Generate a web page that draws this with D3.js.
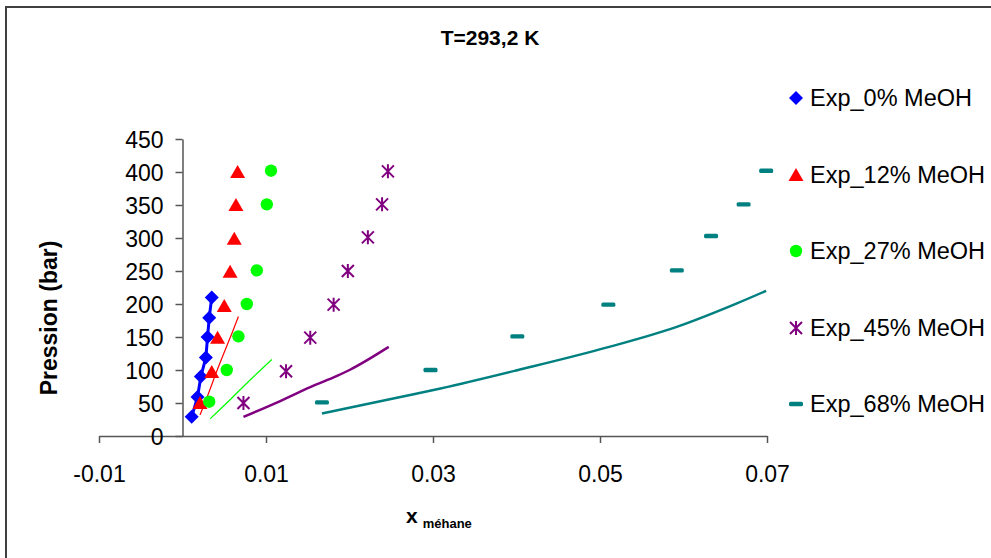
<!DOCTYPE html>
<html>
<head>
<meta charset="utf-8">
<script src="https://cdn.jsdelivr.net/npm/d3@7"></script>
<style>
  html, body { margin: 0; padding: 0; background: #fff; }
  svg { display: block; }
  text { font-family: Arial, "Liberation Sans", sans-serif; fill: #000; }
</style>
</head>
<body>
<svg id="chart" width="991" height="558"></svg>
<script>
// ---- data ----
const title = "T=293,2 K";
const xTicks = [-0.01, 0.01, 0.03, 0.05, 0.07];
const yTicks = [0, 50, 100, 150, 200, 250, 300, 350, 400, 450];
const legendLabels = ["Exp_0% MeOH", "Exp_12% MeOH", "Exp_27% MeOH", "Exp_45% MeOH", "Exp_68% MeOH"];

const exp0X  = [0.0011, 0.0018, 0.0022, 0.0028, 0.0030, 0.0032, 0.0035];
const exp0P  = [29, 59, 90, 119, 150, 179, 210];

const exp12X = [0.0021, 0.0035, 0.0042, 0.0050, 0.0057, 0.0062, 0.0064, 0.0066];
const exp12P = [50, 97, 149, 197, 249, 299, 350, 400];
const calc12X = [0.0021, 0.0031, 0.0041, 0.0051, 0.0059, 0.0067];
const calc12P = [32, 64, 98, 130, 155, 181];

const exp27X = [0.0032, 0.0053, 0.0067, 0.0077, 0.0089, 0.0101, 0.0106];
const exp27P = [52, 100, 151, 200, 251, 351, 402];
const calc27X = [0.0033, 0.0057, 0.0077, 0.0107];
const calc27P = [26, 55, 80, 116];

const exp45X = [0.0073, 0.0124, 0.0153, 0.0181, 0.0198, 0.0222, 0.0239, 0.0246];
const exp45P = [50, 98, 149, 199, 250, 301, 351, 401];
const calc45X = [0.0073, 0.0117, 0.0153, 0.0185, 0.0200, 0.0247];
const calc45P = [29, 53, 74, 91, 100, 135];

const exp68X = [0.0167, 0.0297, 0.0401, 0.0510, 0.0592, 0.0633, 0.0672, 0.0699];
const exp68P = [51, 100, 151, 199, 251, 303, 351, 402];
const calc68X = [0.0167, 0.0261, 0.0309, 0.0402, 0.0511, 0.0591, 0.0664, 0.0699];
const calc68P = [34, 59, 72, 100, 135, 165, 201, 220];

const colors = ["#0000FF", "#FF0000", "#00FF00", "#800080", "#008080"];

// ---- build ----
const zip = (xs, ys) => xs.map((x, i) => ({x, y: ys[i]}));
const svg = d3.select("#chart");
const FONT = 'Arial, "Liberation Sans", sans-serif';

// outer frame
svg.append("rect").attr("x", 6).attr("y", 7).attr("width", 1000).attr("height", 600)
  .attr("fill", "none").attr("stroke", "#404040").attr("stroke-width", 2);

const x = d3.scaleLinear().domain([-0.01, 0.07]).range([99, 767]);
const y = d3.scaleLinear().domain([0, 450]).range([436, 139]);

// x axis (crosses at y = 0)
const gx = svg.append("g").attr("transform", `translate(0,${y(0)})`)
  .call(d3.axisBottom(x).tickValues(xTicks).tickSize(7).tickSizeOuter(0)
    .tickFormat(d => d3.format(".2f")(d).replace("−", "-")));
gx.select(".domain").attr("stroke", "#555").attr("stroke-width", 1.5);
gx.selectAll(".tick line").attr("stroke", "#555").attr("stroke-width", 1.5);
gx.selectAll(".tick text").attr("y", 38).attr("dy", "0.35em")
  .style("font-size", "23px").style("font-family", FONT).attr("fill", "#000");

// y axis (crosses at x = 0)
const gy = svg.append("g").attr("transform", `translate(${x(0)},0)`)
  .call(d3.axisLeft(y).tickValues(yTicks).tickSize(7).tickSizeOuter(0));
gy.select(".domain").attr("stroke", "#555").attr("stroke-width", 1.5);
gy.selectAll(".tick line").attr("stroke", "#555").attr("stroke-width", 1.5);
gy.selectAll(".tick text").attr("x", -19).attr("dy", "0.35em")
  .style("font-size", "23px").style("font-family", FONT).attr("fill", "#000");

// lines
const line = d3.line().x(d => x(d.x)).y(d => y(d.y));
const smooth = d3.line().x(d => x(d.x)).y(d => y(d.y)).curve(d3.curveMonotoneX);
const lineDefs = [
  {data: zip(exp0X, exp0P), color: colors[0], w: 3, gen: line},
  {data: zip(calc12X, calc12P), color: colors[1], w: 1.2, gen: smooth},
  {data: zip(calc27X, calc27P), color: colors[2], w: 1.2, gen: smooth},
  {data: zip(calc45X, calc45P), color: colors[3], w: 2.5, gen: smooth},
  {data: zip(calc68X, calc68P), color: colors[4], w: 2.5, gen: smooth}
];
svg.append("g").selectAll("path").data(lineDefs).join("path")
  .attr("d", d => d.gen(d.data)).attr("fill", "none")
  .attr("stroke", d => d.color).attr("stroke-width", d => d.w)
  .attr("stroke-linejoin", "round");

// marker drawers
function drawMarker(g, type, color) {
  if (type === 0) {
    g.append("path").attr("d", "M0,-7L7,0L0,7L-7,0Z").attr("fill", color);
  } else if (type === 1) {
    g.append("path").attr("d", "M0,-7L7.5,6L-7.5,6Z").attr("fill", color);
  } else if (type === 2) {
    g.append("circle").attr("r", 6.2).attr("fill", color);
  } else if (type === 3) {
    g.append("path").attr("d", "M0,-7L0,7M-6,-6L6,6M-6,6L6,-6")
      .attr("stroke", color).attr("stroke-width", 2).attr("fill", "none");
  } else {
    g.append("rect").attr("x", -7).attr("y", -2.2).attr("width", 14).attr("height", 4.4)
      .attr("rx", 1.5).attr("fill", color);
  }
}

const expSeries = [zip(exp0X, exp0P), zip(exp12X, exp12P), zip(exp27X, exp27P), zip(exp45X, exp45P), zip(exp68X, exp68P)];
const mg = svg.append("g");
expSeries.forEach((pts, i) => {
  pts.forEach(p => {
    const g = mg.append("g").attr("transform", `translate(${x(p.x)},${y(p.y)})`);
    drawMarker(g, i, colors[i]);
  });
});

// title
svg.append("text").attr("x", 490).attr("y", 38).attr("dy", "0.35em").attr("text-anchor", "middle")
  .style("font-size", "21px").style("font-weight", "bold").text(title);

// axis titles
svg.append("text").attr("transform", "translate(57,318) rotate(-90)").attr("text-anchor", "middle")
  .style("font-size", "23px").style("font-weight", "bold").text("Pression (bar)");
const xt = svg.append("text").attr("x", 406).attr("y", 523).style("font-weight", "bold");
xt.append("tspan").style("font-size", "21px").text("x");
xt.append("tspan").attr("dx", 5).attr("dy", 5).style("font-size", "13px").text("méhane");

// legend
const legendY = [98, 175, 251, 328, 404];
legendLabels.forEach((lab, i) => {
  const g = svg.append("g").attr("transform", `translate(796,${legendY[i]})`);
  drawMarker(g, i, colors[i]);
  svg.append("text").attr("x", 810).attr("y", legendY[i]).attr("dy", "0.35em")
    .style("font-size", "23.5px").text(lab);
});
</script>
</body>
</html>
